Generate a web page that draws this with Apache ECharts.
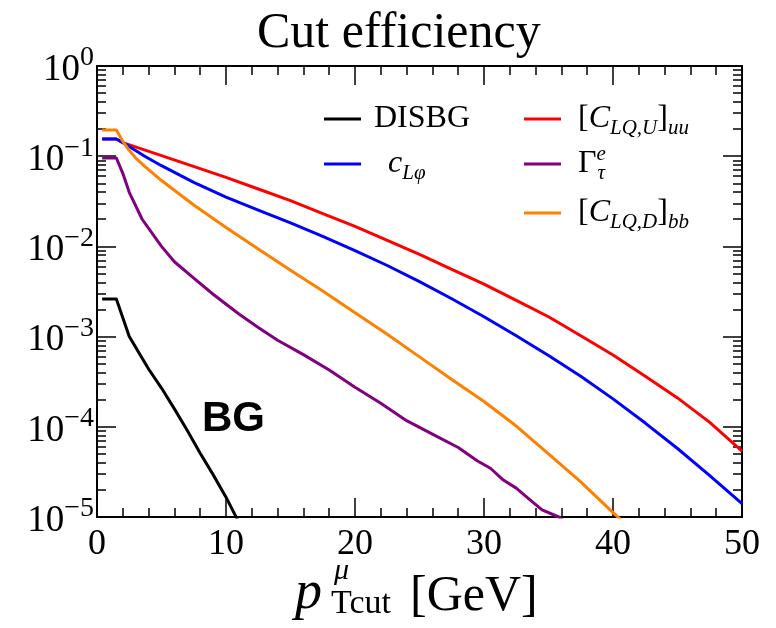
<!DOCTYPE html>
<html><head><meta charset="utf-8">
<script src="https://cdn.jsdelivr.net/npm/echarts@6/dist/echarts.min.js"></script>
<style>html,body{margin:0;padding:0;background:#fff}#c{width:776px;height:628px}</style>
</head><body><div id="c"></div>
<script>
// ---- data ----
const xTickLabels = [0, 10, 20, 30, 40, 50];
const yTickExponents = [0, -1, -2, -3, -4, -5];

const seriesNames = ['DISBG', 'cLφ', 'CLQU', 'Gamma', 'CLQD'];

const disbgX = [0.4, 1.5, 2.5, 4, 5, 6, 7, 8, 9, 10, 11];
const disbgY = [0.00261, 0.00261, 0.001, 4.37e-4, 2.69e-4, 1.58e-4, 9.1e-5, 5.1e-5, 2.95e-5, 1.66e-5, 8.7e-6];

const clpX = [0.4, 1.5, 2.4, 3.7, 5, 7.5, 10, 12.5, 15, 17.5, 20, 22.5, 25, 27.5, 30, 32.5, 35, 37.5, 40, 42.5, 45, 47.5, 50];
const clpY = [0.155, 0.155, 0.1309, 0.1, 0.0785, 0.0513, 0.0351, 0.0252, 0.0182, 0.01288, 0.00897, 0.00614, 0.00407, 0.00263, 0.00166, 0.00102, 6.17e-4, 3.63e-4, 2.04e-4, 1.10e-4, 5.75e-5, 2.88e-5, 1.41e-5];

const cluX = [0.4, 1.5, 2, 5, 10, 12.5, 15, 17.5, 20, 22.5, 25, 27.5, 30, 32.5, 35, 37.5, 40, 42.5, 45, 47.5, 50];
const cluY = [0.155, 0.155, 0.1413, 0.1014, 0.0583, 0.0433, 0.0321, 0.0231, 0.01663, 0.01164, 0.00815, 0.00557, 0.00381, 0.00252, 0.00166, 0.00102, 6.25e-4, 3.63e-4, 2.09e-4, 1.12e-4, 5.37e-5];

const gamX = [0.4, 1.5, 2, 2.5, 3.5, 5, 6, 7.5, 9, 11, 12.5, 14, 16, 18, 20, 22, 24, 26, 28, 29.5, 30.5, 31.5, 32.5, 33.5, 34.5, 35.8, 36.5];
const gamY = [0.0955, 0.0955, 0.0646, 0.0398, 0.02, 0.01, 0.00676, 0.00444, 0.00295, 0.00178, 0.00126, 9.12e-4, 6.31e-4, 4.27e-4, 2.75e-4, 1.82e-4, 1.17e-4, 8.3e-5, 5.89e-5, 4.17e-5, 3.47e-5, 2.57e-5, 2.09e-5, 1.58e-5, 1.2e-5, 1.0e-5, 8.3e-6];

const cldX = [0.4, 1.5, 2, 2.5, 3, 3.7, 5, 7.5, 10, 12.5, 15, 17.5, 20, 22.5, 25, 27.5, 30, 32.5, 35, 37.5, 40, 41];
const cldY = [0.195, 0.195, 0.146, 0.116, 0.0955, 0.0771, 0.0537, 0.0288, 0.0162, 0.00933, 0.00543, 0.0032, 0.00184, 0.00106, 5.96e-4, 3.35e-4, 1.91e-4, 1.02e-4, 5.01e-5, 2.45e-5, 1.12e-5, 8.3e-6];

// ---- chart ----
const zip = (xs, ys) => xs.map((x, i) => [x, ys[i]]);
const SERIF = 'Liberation Serif';

const minorY = [];
for (let e = -5; e < 0; e++) for (let m = 2; m <= 9; m++) minorY.push(m * Math.pow(10, e));

const tickLine = { color: '#000', width: 1.5 };
const yBase = { type: 'log', logBase: 10, min: 1e-5, max: 1, splitLine: { show: false }, axisLine: { show: false } };

const richLegend = {
  sp6: { width: 8 }, sp20: { width: 22 }, sp10: { width: 12 },
  r: { fontFamily: SERIF, fontSize: 32, lineHeight: 40, color: '#000' },
  i: { fontFamily: SERIF, fontSize: 32, lineHeight: 40, fontStyle: 'italic', color: '#000' },
  sub: { fontFamily: SERIF, fontSize: 21, lineHeight: 18, fontStyle: 'italic', verticalAlign: 'bottom', color: '#000' },
  supz: { fontFamily: SERIF, fontSize: 21, lineHeight: 18, fontStyle: 'italic', verticalAlign: 'top', color: '#000', width: 1 }
};
const legendText = {
  'DISBG': '{sp6|\u00a0}{r|DISBG}',
  'cLφ': '{sp20|\u00a0}{i|c}{sub|Lφ}',
  'CLQU': '{sp10|\u00a0}{r|[}{i|C}{sub|LQ,U}{r|]}{sub|uu}',
  'Gamma': '{sp10|\u00a0}{r|Γ}{supz|e}{sub|τ}',
  'CLQD': '{sp10|\u00a0}{r|[}{i|C}{sub|LQ,D}{r|]}{sub|bb}'
};
function leg(name, left, iconY) {
  return {
    data: [name], left: left, top: iconY - 20, icon: 'rect', itemWidth: 37, itemHeight: 3,
    selectedMode: false, padding: 0,
    formatter: n => legendText[n],
    textStyle: { rich: richLegend, lineHeight: 40 }
  };
}

const colors = { 'DISBG': '#000000', 'cLφ': '#0000ff', 'CLQU': '#ff0000', 'Gamma': '#800080', 'CLQD': '#ff8000' };
function line(name, xs, ys, z) {
  return {
    type: 'line', name: name, data: zip(xs, ys), showSymbol: false, symbol: 'none',
    lineStyle: { width: 3, color: colors[name], join: 'round' }, itemStyle: { color: colors[name] },
    clip: true, z: z, xAxisIndex: 0, yAxisIndex: 0
  };
}

function txt(s, x, y, font) {
  return { type: 'text', x: x, y: y, z: 100, silent: true,
    style: { text: s, font: font, fill: '#000', align: 'left', verticalAlign: 'middle', textAlign: 'left', textVerticalAlign: 'middle' } };
}

const option = {
  animation: false,
  backgroundColor: '#fff',
  title: {
    text: 'Cut efficiency', left: 252, top: 4,
    textStyle: { fontFamily: SERIF, fontSize: 50, fontWeight: 'normal', color: '#000' }
  },
  grid: { left: 97, right: 34, top: 66, bottom: 111, show: true, borderColor: '#000', borderWidth: 2,
    backgroundColor: 'transparent', outerBoundsMode: 'none', containLabel: false },
  legend: [
    leg('DISBG', 324, 119),
    leg('cLφ', 324, 164),
    leg('CLQU', 524, 119),
    leg('Gamma', 524, 164),
    leg('CLQD', 524, 213)
  ],
  xAxis: [
    {
      type: 'value', min: 0, max: 50, interval: 10, position: 'bottom',
      axisLine: { show: false }, splitLine: { show: false },
      axisTick: { inside: true, length: 19, lineStyle: tickLine },
      minorTick: { show: true, splitNumber: 5, length: 9, lineStyle: tickLine },
      axisLabel: { fontFamily: SERIF, fontSize: 36, color: '#000', margin: 10,
        formatter: v => xTickLabels.includes(v) ? String(v) : '' }
    },
    {
      type: 'value', min: 0, max: 50, interval: 10, position: 'top',
      axisLine: { show: false }, splitLine: { show: false },
      axisTick: { inside: true, length: 19, lineStyle: tickLine },
      minorTick: { show: true, splitNumber: 5, length: 9, lineStyle: tickLine },
      axisLabel: { show: false }
    }
  ],
  yAxis: [
    Object.assign({}, yBase, {
      position: 'left',
      axisTick: { inside: true, length: 19, lineStyle: tickLine },
      axisLabel: {
        margin: 3,
        formatter: v => {
          const e = Math.round(Math.log10(v));
          if (!yTickExponents.includes(e)) return '';
          return '{b|10}{s|' + (e < 0 ? '\u2212' + (-e) : String(e)) + '}';
        },
        rich: {
          b: { fontFamily: SERIF, fontSize: 37, lineHeight: 44, color: '#000', padding: [8, 0, 0, 0] },
          s: { fontFamily: SERIF, fontSize: 28, lineHeight: 26, verticalAlign: 'top', color: '#000' }
        }
      }
    }),
    Object.assign({}, yBase, {
      position: 'left',
      axisTick: { inside: true, length: 9, lineStyle: tickLine, customValues: minorY },
      axisLabel: { show: false }
    }),
    Object.assign({}, yBase, {
      position: 'right',
      axisTick: { inside: true, length: 19, lineStyle: tickLine },
      axisLabel: { show: false }
    }),
    Object.assign({}, yBase, {
      position: 'right',
      axisTick: { inside: true, length: 9, lineStyle: tickLine, customValues: minorY },
      axisLabel: { show: false }
    })
  ],
  graphic: [
    { type: 'text', left: 202, top: 398, z: 100,
      style: { text: 'BG', fontFamily: 'Liberation Sans', fontWeight: 'bold', fontSize: 42, fill: '#000' } },
    // x-axis title  p^μ_Tcut [GeV]
    txt('p', 295, 594, 'italic 54px "Liberation Serif"'),
    txt('μ', 334, 571, 'italic 30px "Liberation Serif"'),
    txt('Tcut', 331, 604, '34px "Liberation Serif"'),
    txt('[GeV]', 410, 597, '50px "Liberation Serif"')
  ],
  series: [
    line('CLQU', cluX, cluY, 2),
    line('cLφ', clpX, clpY, 3),
    line('Gamma', gamX, gamY, 4),
    line('CLQD', cldX, cldY, 5),
    line('DISBG', disbgX, disbgY, 6)
  ]
};

const chart = echarts.init(document.getElementById('c'), null, { renderer: 'canvas' });
chart.setOption(option);
</script>
</body></html>
